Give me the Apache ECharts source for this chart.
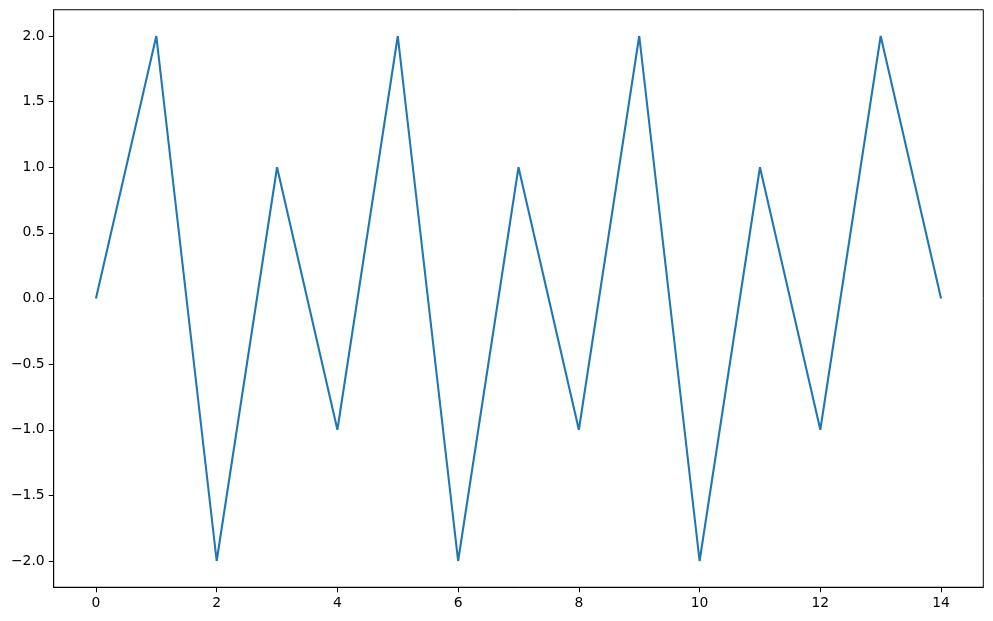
<!DOCTYPE html>
<html>
<head>
<meta charset="utf-8">
<script src="https://cdn.jsdelivr.net/npm/echarts@6/dist/echarts.min.js"></script>
<style>html,body{margin:0;padding:0;background:#fff}#c{width:993px;height:621px}</style>
</head>
<body>
<div id="c"></div>
<script>
var xValues = [0,1,2,3,4,5,6,7,8,9,10,11,12,13,14];
var yValues = [0,2,-2,1,-1,2,-2,1,-1,2,-2,1,-1,2,0];
var xTicks = [0,2,4,6,8,10,12,14];
var yTicks = [-2,-1.5,-1,-0.5,0,0.5,1,1.5,2];

function fmtY(v){ return (v < 0 ? '\u2212' : '') + Math.abs(v).toFixed(1); }
function fmtX(v){ return (v < 0 ? '\u2212' : '') + Math.abs(Math.round(v)); }

var chart = echarts.init(document.getElementById('c'));
var lab = {color:'#000', fontFamily:'DejaVu Sans', fontSize:13.9, margin:9};
chart.setOption({
  animation:false,
  grid:{left:53.7, right:9.7, top:9.75, bottom:33.75, show:true, borderColor:'#000', borderWidth:1, containLabel:false},
  xAxis:{type:'value', min:-0.7, max:14.7,
    axisLine:{show:true, onZero:false, lineStyle:{color:'#000', width:1}},
    axisTick:{show:true, length:5, customValues:xTicks, lineStyle:{color:'#000', width:1}},
    axisLabel:Object.assign({customValues:xTicks, formatter:fmtX}, lab),
    splitLine:{show:false}},
  yAxis:{type:'value', min:-2.2, max:2.2,
    axisLine:{show:true, onZero:false, lineStyle:{color:'#000', width:1}},
    axisTick:{show:true, length:5, customValues:yTicks, lineStyle:{color:'#000', width:1}},
    axisLabel:Object.assign({customValues:yTicks, formatter:fmtY}, lab),
    splitLine:{show:false}},
  series:[{type:'line', data:xValues.map(function(x,i){return [x, yValues[i]];}),
    showSymbol:false, symbol:'none', lineStyle:{color:'#1f77b4', width:2.1}, itemStyle:{color:'#1f77b4'}}]
});
</script>
</body>
</html>
